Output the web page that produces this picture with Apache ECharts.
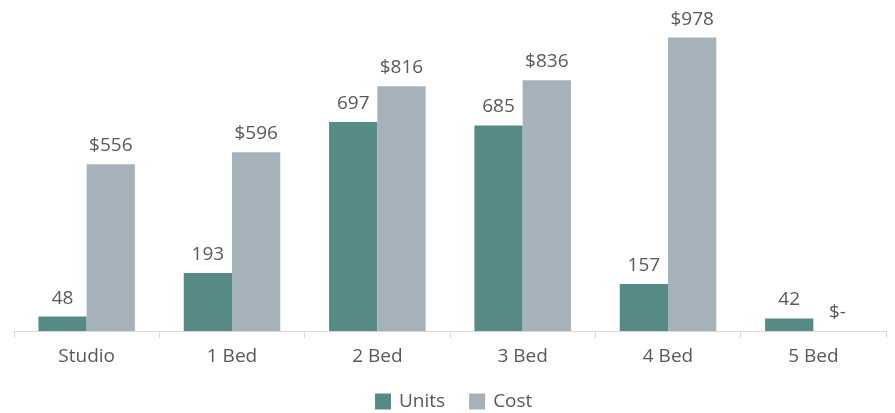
<!DOCTYPE html>
<html>
<head>
<meta charset="utf-8">
<script src="https://cdn.jsdelivr.net/npm/echarts@6/dist/echarts.min.js"></script>
<style>
html,body{margin:0;padding:0;background:#fff;}
#chart{width:895px;height:413px;}
</style>
</head>
<body>
<div id="chart"></div>
<script>
//分类
var categories = ['Studio', '1 Bed', '2 Bed', '3 Bed', '4 Bed', '5 Bed'];
//单位数量
var units = [48, 193, 697, 685, 157, 42];
//成本
var cost = [556, 596, 816, 836, 978, 0];

var textColor = '#595959';
var fontName = '"Open Sans", "Noto Sans", sans-serif';

var myChart = echarts.init(document.getElementById('chart'));
var option = {
	animation: false,
	textStyle: { fontFamily: fontName },
	grid: { left: 14, right: 9, top: 31, bottom: 82 },
	legend: {
		data: ['Units', 'Cost'],
		bottom: -3,
		left: 370,
		itemWidth: 16,
		itemHeight: 16,
		itemGap: 24,
		icon: 'rect',
		textStyle: { color: textColor, fontSize: 19, fontFamily: fontName, padding: [0, 0, 0, 3] }
	},
	xAxis: {
		type: 'category',
		data: categories,
		axisLine: { lineStyle: { color: '#d9d9d9', width: 1 } },
		axisTick: { show: true, length: 7, lineStyle: { color: '#d9d9d9' } },
		axisLabel: { color: textColor, fontSize: 19, margin: 16, fontFamily: fontName }
	},
	yAxis: {
		type: 'value',
		min: 0,
		max: 1000,
		show: false,
		splitLine: { show: false }
	},
	series: [
		{
			name: 'Units',
			type: 'bar',
			data: units,
			barWidth: '33.2%',
			barGap: '0%',
			itemStyle: { color: '#558b84' },
			label: {
				show: true,
				position: 'top',
				distance: 9,
				color: textColor,
				fontSize: 19,
				fontFamily: fontName
			}
		},
		{
			name: 'Cost',
			type: 'bar',
			data: cost,
			barWidth: '33.2%',
			itemStyle: { color: '#a6b2ba' },
			label: {
				show: true,
				position: 'top',
				distance: 9,
				color: textColor,
				fontSize: 19,
				fontFamily: fontName,
				formatter: function (p) {
					return p.value === 0 ? '$-' : '$' + p.value;
				}
			}
		}
	]
};
myChart.setOption(option);
</script>
</body>
</html>
